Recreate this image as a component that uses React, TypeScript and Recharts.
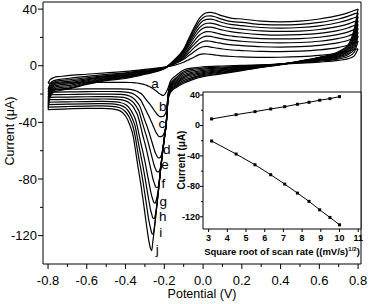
import { LineChart, Line, XAxis, YAxis, ReferenceDot, ReferenceLine } from "recharts"

const FONT = '"Liberation Sans", Arial, sans-serif'

// curve labels, one per scan rate (10 ... 100 mV/s)
const curveIds = ["a", "b", "c", "d", "e", "f", "g", "h", "i", "j"]

// potentials of the forward (anodic) sweep, V
const forwardE = [
  -0.8, -0.79, -0.77, -0.74, -0.7, -0.6, -0.5, -0.4, -0.3, -0.2, -0.15, -0.1, -0.07, -0.04, -0.02,
  0, 0.02, 0.04, 0.06, 0.08, 0.1, 0.15, 0.2, 0.3, 0.4, 0.5, 0.6, 0.7, 0.75, 0.78, 0.8,
]

// current on the forward sweep, µA (rows a..j)
const forwardI = [
  [-12.3, -10, -8.3, -7.6, -7, -6, -5, -4, -2.6, -1, 0.3, 2.5, 4.5, 6.5, 7.8, 8.4, 8.3, 8, 7.6, 7.3, 7, 6.5, 6.2, 5.9, 6, 6.4, 7.3, 9, 10.4, 11.4, 12],
  [-16.8, -13, -10.5, -9.6, -9, -7.5, -6.2, -5, -3.2, -1.2, 1, 4.5, 7.5, 10.5, 12.3, 13.4, 13.6, 13.2, 12.7, 12.2, 11.8, 11.1, 10.7, 10.1, 10, 10.3, 11.2, 13, 14.6, 16.3, 17.5],
  [-18.7, -14.5, -11.5, -10.5, -10, -8.5, -7, -5.5, -3.6, -1.4, 1.5, 5.5, 9.5, 13.5, 15.7, 17.1, 17.5, 17.2, 16.7, 16.1, 15.6, 14.7, 14.2, 13.4, 13.2, 13.5, 14.4, 16.3, 18, 19.8, 21],
  [-20.5, -16, -12.5, -11.5, -11, -9.3, -7.5, -6, -4, -1.5, 2, 6.5, 11.5, 16, 18.6, 20.3, 20.9, 20.7, 20.1, 19.5, 18.9, 17.9, 17.3, 16.4, 16.1, 16.4, 17.3, 19.3, 21, 22.8, 23.8],
  [-22.3, -17.5, -13.5, -12.5, -12, -10, -8, -6.5, -4.4, -1.7, 2.4, 7.5, 13, 18.5, 21.5, 23.3, 24.1, 24, 23.4, 22.7, 22, 20.9, 20.2, 19.2, 18.9, 19.2, 20.1, 22.2, 23.9, 25.6, 26.5],
  [-24, -18.5, -14.5, -13.5, -13, -10.7, -8.5, -7, -4.8, -1.8, 2.8, 8.5, 14.8, 21, 24.3, 26.4, 27.3, 27.3, 26.7, 25.9, 25.2, 23.9, 23.1, 22, 21.6, 21.9, 22.9, 25, 26.8, 28.4, 29.2],
  [-25.8, -19.5, -15.5, -14.5, -14, -11.3, -9, -7.5, -5, -2, 3.1, 9.4, 16.2, 23, 26.7, 29, 30, 30.1, 29.5, 28.7, 27.9, 26.5, 25.8, 24.6, 24.2, 24.5, 25.6, 27.8, 29.6, 31.1, 31.9],
  [-27.5, -20.5, -16.5, -15.5, -15, -12, -9.5, -8, -5.3, -2, 3.4, 10.3, 17.7, 25, 29.1, 31.7, 32.8, 32.9, 32.3, 31.4, 30.5, 29, 28.3, 27, 26.6, 27, 28.2, 30.5, 32.4, 33.9, 34.6],
  [-29.2, -21.5, -17.5, -16.5, -16, -12.6, -10, -8.5, -5.6, -2, 3.7, 11, 19, 26.8, 31.1, 33.9, 35.1, 35.2, 34.6, 33.6, 32.7, 31.1, 30.6, 29.2, 28.8, 29.2, 30.6, 33, 35, 36.6, 37.3],
  [-31, -22.5, -18.5, -17.5, -16.5, -13.2, -10.5, -9, -6, -2, 4, 11.8, 20.3, 28.5, 33.2, 36.2, 37.5, 37.7, 37.1, 36.1, 35.2, 33.5, 33, 31.5, 31, 31.5, 33, 35.5, 37.5, 39, 40],
]

// potentials of the return (cathodic) sweep, listed from -0.8 V upward
const returnE = [
  -0.8, -0.7, -0.6, -0.52, -0.47, -0.43, -0.4, -0.38, -0.36, -0.35, -0.34, -0.33, -0.32, -0.31, -0.3,
  -0.29, -0.28, -0.27, -0.265, -0.26, -0.255, -0.25, -0.245, -0.24, -0.235, -0.23, -0.225, -0.22, -0.215,
  -0.21, -0.205, -0.2, -0.19, -0.18, -0.17, -0.16, -0.14, -0.1, -0.05, 0, 0.1, 0.2, 0.3, 0.4, 0.5, 0.6,
  0.7, 0.75, 0.78, 0.8,
]

// current on the return sweep, µA (rows a..j)
const returnI = [
  [-12.3, -12.1, -11.9, -11.8, -11.8, -11.8, -11.8, -11.85, -11.95, -12.05, -12.2, -12.4, -12.7, -13, -13.4, -13.9, -14.5, -15.2, -15.6, -16, -16.5, -17, -17.5, -18, -18.6, -19.2, -19.7, -20.2, -20.6, -20.9, -21, -20.6, -18.5, -15.5, -11.5, -9.3, -7, -3, -1.5, -0.8, -0.2, 0.2, 0.6, 1.2, 1.8, 2.6, 3.8, 5, 7, 12],
  [-16.8, -16.6, -16.4, -16.3, -16.3, -16.35, -16.5, -16.7, -17.2, -17.6, -18.1, -18.9, -19.6, -21, -22.8, -24.6, -26.2, -27.9, -28.9, -29.9, -30.9, -31.9, -32.8, -33.8, -34.6, -35.2, -35.8, -36, -36, -35.9, -35.7, -35.2, -32, -19.5, -13, -11, -8.5, -4.2, -2.4, -1.7, -0.9, -0.3, 0.4, 1.2, 2.1, 3.2, 4.8, 6.5, 9.5, 17.5],
  [-18.7, -18.5, -18.3, -18.2, -18.2, -18.3, -18.6, -19, -19.9, -20.6, -21.7, -23, -24.6, -27.3, -30.1, -32.8, -35.5, -38.6, -40.1, -41.7, -43.3, -44.9, -46.5, -47.8, -48.7, -49.7, -50, -50, -49.9, -49.6, -48.8, -47.2, -39.8, -20, -14, -12, -9.5, -5.3, -3.4, -2.5, -1.5, -0.7, 0.2, 1.2, 2.3, 3.7, 5.6, 8, 11.5, 21],
  [-20.5, -20.3, -20.1, -20, -20, -20.2, -20.6, -21.4, -22.9, -24.1, -25.9, -27.7, -30.8, -34.9, -38.9, -42.5, -46.6, -51, -53.3, -55.6, -57.8, -60, -61.9, -63.2, -64.6, -65, -65, -64.5, -63, -60, -55.9, -50.6, -40, -20.5, -14.7, -12.8, -10.5, -6.4, -4.4, -3.3, -2.1, -1.1, 0, 1.2, 2.5, 4.1, 6.3, 9, 13.5, 23.8],
  [-22.3, -22.1, -21.9, -21.8, -21.85, -22.1, -22.7, -23.8, -25.9, -27.7, -29.8, -32.4, -37, -41.8, -46.3, -50.8, -55.8, -61.2, -63.8, -66.5, -69.2, -71.3, -72.9, -74.5, -75, -75, -74, -72, -67.3, -61.5, -56.2, -50.9, -40.3, -21, -15.5, -13.6, -11.4, -7.4, -5.3, -4.1, -2.7, -1.5, -0.2, 1.2, 2.7, 4.5, 7, 10, 15.5, 26.5],
  [-24, -23.8, -23.6, -23.5, -23.6, -23.9, -24.8, -26.3, -29.1, -31.6, -34.1, -38.5, -44.1, -49.8, -54.8, -60.4, -66.6, -72.9, -76, -79.1, -81.6, -83.5, -85.4, -86, -86, -84.5, -80, -73.7, -67.7, -61.8, -56.4, -51.1, -40.5, -21.5, -16.3, -14.4, -12.3, -8.4, -6.2, -4.9, -3.3, -1.9, -0.4, 1.1, 2.9, 4.9, 7.6, 11, 17.5, 29.2],
  [-25.8, -25.5, -25.3, -25.2, -25.3, -25.9, -27.4, -29.9, -34.5, -37.4, -42.4, -48.9, -55.4, -61.1, -67.6, -74.7, -81.9, -89.1, -92, -94.1, -96.3, -97, -96.5, -94, -91, -86.5, -80.5, -74, -68, -62.1, -56.7, -51.4, -40.8, -22, -17.1, -15.2, -13.1, -9.4, -7.1, -5.6, -3.9, -2.3, -0.6, 1, 3, 5.2, 8.2, 12, 19.5, 31.9],
  [-27.5, -27.1, -26.9, -26.8, -27, -27.8, -29.8, -33.1, -39, -43, -50, -57.3, -64.2, -71, -78.8, -86.9, -95, -102.3, -104.8, -107.2, -108, -107.3, -104.5, -99.8, -94, -87.5, -81, -74.2, -68.2, -62.3, -56.9, -51.6, -41, -22.5, -17.9, -16, -13.9, -10.4, -8, -6.3, -4.5, -2.7, -0.8, 0.9, 3.1, 5.5, 8.8, 13, 21.5, 34.6],
  [-29.2, -28.8, -28.5, -28.4, -28.7, -29.7, -32.5, -36.6, -43.8, -50.1, -58.3, -66.5, -73.7, -81.9, -90.9, -100, -109, -115.4, -118.1, -119, -117.5, -113, -107, -100.5, -94.3, -87.8, -81.3, -74.5, -68.5, -62.6, -57.2, -51.9, -41.3, -23, -18.7, -16.8, -14.7, -11.4, -8.8, -7, -5.1, -3.1, -1, 0.8, 3.2, 5.8, 9.4, 14, 23.5, 37.3],
  [-31, -30.4, -30.1, -30.1, -30.4, -31.7, -35.5, -41.1, -50.1, -58.6, -67.7, -76.2, -84.8, -94.3, -104.4, -114.4, -123.5, -129.5, -130.5, -125.3, -119.5, -113.6, -107.3, -100.7, -94.5, -88, -81.5, -74.7, -68.7, -62.8, -57.4, -52.1, -41.5, -23.5, -19.5, -17.6, -15.5, -12.4, -9.6, -7.7, -5.6, -3.5, -1.2, 0.7, 3.3, 6, 10, 15, 26, 40],
]

// where the letters sit, next to each cathodic peak
const letterE = [-0.248, -0.208, -0.213, -0.187, -0.196, -0.205, -0.205, -0.208, -0.218, -0.236]
const letterI = [-12.4, -28.9, -40.6, -59.4, -70, -82.9, -95.8, -106.8, -118.1, -129.9]

const potentialTicks = [-0.8, -0.7, -0.6, -0.5, -0.4, -0.3, -0.2, -0.1, 0, 0.1, 0.2, 0.3, 0.4, 0.5, 0.6, 0.7, 0.8]
const currentTicks = [-120, -100, -80, -60, -40, -20, 0, 20, 40]

// inset: peak currents vs square root of scan rate
const sqrtRate = [3.16, 4.47, 5.48, 6.32, 7.07, 7.75, 8.37, 8.94, 9.49, 10]
const anodicPeak = [8.6, 14.2, 18.2, 21.7, 24.7, 27.9, 30.5, 33.2, 35.3, 37.9]
const cathodicPeak = [-20.4, -37.5, -51.6, -64.7, -77, -88.8, -99.7, -110.8, -120.8, -130.5]
const insetXTicks = [3, 4, 5, 6, 7, 8, 9, 10, 11]
const insetYTicks = [-120, -100, -80, -60, -40, -20, 0, 20, 40]

const sweeps = curveIds.flatMap((id, k) => [
  { key: id + "-fwd", data: forwardE.map((e, n) => ({ e, i: forwardI[k][n] })) },
  { key: id + "-ret", data: returnE.map((e, n) => ({ e, i: returnI[k][n] })) },
])
const anodicData = sqrtRate.map((x, n) => ({ x, y: anodicPeak[n] }))
const cathodicData = sqrtRate.map((x, n) => ({ x, y: cathodicPeak[n] }))

function MainXTick(props: any) {
  const { x, y, payload } = props
  const v: number = payload.value
  const major = Math.round(v * 10) % 2 === 0
  return (
    <g>
      <line x1={x} x2={x} y1={y} y2={y + (major ? 5 : 3)} stroke="#000" />
      {major && (
        <text x={x} y={y + 16} textAnchor="middle" dominantBaseline="central" fontSize={13} fontFamily={FONT} fill="#000">
          {v.toFixed(1)}
        </text>
      )}
    </g>
  )
}

function MainYTick(props: any) {
  const { x, y, payload } = props
  const v: number = payload.value
  const major = v % 40 === 0
  return (
    <g>
      <line x1={x} x2={x - (major ? 5 : 3)} y1={y} y2={y} stroke="#000" />
      {major && (
        <text x={x - 6} y={y} textAnchor="end" dominantBaseline="central" fontSize={13} fontFamily={FONT} fill="#000">
          {v}
        </text>
      )}
    </g>
  )
}

function InsetXTick(props: any) {
  const { x, y, payload } = props
  return (
    <g>
      <line x1={x} x2={x} y1={y} y2={y + 3} stroke="#000" />
      <text x={x} y={y + 9} textAnchor="middle" dominantBaseline="central" fontSize={9} fontWeight="bold" fontFamily={FONT} fill="#000">
        {payload.value}
      </text>
    </g>
  )
}

function InsetYTick(props: any) {
  const { x, y, payload } = props
  const v: number = payload.value
  const major = v % 40 === 0
  return (
    <g>
      <line x1={x} x2={x - (major ? 3 : 2)} y1={y} y2={y} stroke="#000" />
      {major && (
        <text x={x - 3} y={y} textAnchor="end" dominantBaseline="central" fontSize={9} fontWeight="bold" fontFamily={FONT} fill="#000">
          {v}
        </text>
      )}
    </g>
  )
}

function squareDot(props: any) {
  const { cx, cy, index } = props
  return <rect key={index} x={cx - 1.5} y={cy - 1.5} width={3} height={3} fill="#000" />
}

// plain black letter centred on the reference dot
function letterLabel(text: string) {
  return (props: any) => {
    const vb = props.viewBox || {}
    const cx = (vb.x ?? 0) + (vb.width ?? 0) / 2
    const cy = (vb.y ?? 0) + (vb.height ?? 0) / 2
    return (
      <text x={cx} y={cy} textAnchor="middle" dominantBaseline="central" fontSize={13.5} fontFamily={FONT} fill="#000">
        {text}
      </text>
    )
  }
}

export default function App() {
  return (
    <div style={{ position: "absolute", left: 0, top: 0, width: 372, height: 304, background: "#fff" }}>
      <div style={{ position: "absolute", left: 0, top: 0 }}>
        <LineChart width={372} height={304} margin={{ top: 2, right: 11, bottom: 0, left: 0 }}>
          <XAxis
            type="number"
            dataKey="e"
            domain={[-0.826, 0.815]}
            ticks={potentialTicks}
            interval={0}
            tick={(p: any) => <MainXTick {...p} />}
            tickLine={false}
            tickSize={0}
            tickMargin={0}
            axisLine={{ stroke: "#000" }}
            height={40}
          />
          <YAxis
            type="number"
            domain={[-140, 45]}
            ticks={currentTicks}
            interval={0}
            tick={(p: any) => <MainYTick {...p} />}
            tickLine={false}
            tickSize={0}
            tickMargin={0}
            axisLine={{ stroke: "#000" }}
            width={43}
          />
          <ReferenceLine y={45} stroke="#000" />
          <ReferenceLine x={0.815} stroke="#000" />
          {sweeps.map((s) => (
            <Line
              key={s.key}
              data={s.data}
              dataKey="i"
              type="monotone"
              stroke="#000"
              strokeWidth={1.2}
              dot={false}
              isAnimationActive={false}
            />
          ))}
          {curveIds.map((id, k) => (
            <ReferenceDot
              key={id}
              x={letterE[k]}
              y={letterI[k]}
              r={1}
              fill="none"
              stroke="none"
              label={letterLabel(id)}
            />
          ))}
        </LineChart>
      </div>

      {/* inset plot area is opaque */}
      <div style={{ position: "absolute", left: 203, top: 92, width: 158, height: 137, background: "#fff" }} />

      <div style={{ position: "absolute", left: 170, top: 86, width: 196, height: 172 }}>
        <LineChart width={196} height={172} margin={{ top: 6, right: 5, bottom: 0, left: 0 }}>
          <XAxis
            type="number"
            dataKey="x"
            domain={[2.7, 11.15]}
            ticks={insetXTicks}
            interval={0}
            tick={(p: any) => <InsetXTick {...p} />}
            tickLine={false}
            tickSize={0}
            tickMargin={0}
            axisLine={{ stroke: "#000" }}
            height={29}
          />
          <YAxis
            type="number"
            domain={[-136, 44]}
            ticks={insetYTicks}
            interval={0}
            tick={(p: any) => <InsetYTick {...p} />}
            tickLine={false}
            tickSize={0}
            tickMargin={0}
            axisLine={{ stroke: "#000" }}
            width={33}
          />
          <ReferenceLine y={44} stroke="#000" />
          <ReferenceLine x={11.15} stroke="#000" />
          <Line data={anodicData} dataKey="y" type="linear" stroke="#000" strokeWidth={1} dot={squareDot} isAnimationActive={false} />
          <Line data={cathodicData} dataKey="y" type="linear" stroke="#000" strokeWidth={1} dot={squareDot} isAnimationActive={false} />
        </LineChart>
      </div>

      <svg width={372} height={304} style={{ position: "absolute", left: 0, top: 0, pointerEvents: "none" }}>
        <text x={10} y={131} transform="rotate(-90 10 131)" textAnchor="middle" dominantBaseline="central" fontSize={12.5} fontFamily={FONT} fill="#000">
          Current (μA)
        </text>
        <text x={202} y={294} textAnchor="middle" dominantBaseline="central" fontSize={12.5} fontFamily={FONT} fill="#000">
          Potential (V)
        </text>
        <text x={181} y={160} transform="rotate(-90 181 160)" textAnchor="middle" dominantBaseline="central" fontSize={10} fontWeight="bold" fontFamily={FONT} fill="#000">
          Current (μA)
        </text>
        <text x={282} y={254.5} textAnchor="middle" fontSize={9.5} fontWeight="bold" fontFamily={FONT} fill="#000">
          Square root of scan rate ((mV/s)
          <tspan fontSize={6} dy={-4}>1/2</tspan>
          <tspan dy={4}>)</tspan>
        </text>
      </svg>
    </div>
  )
}
